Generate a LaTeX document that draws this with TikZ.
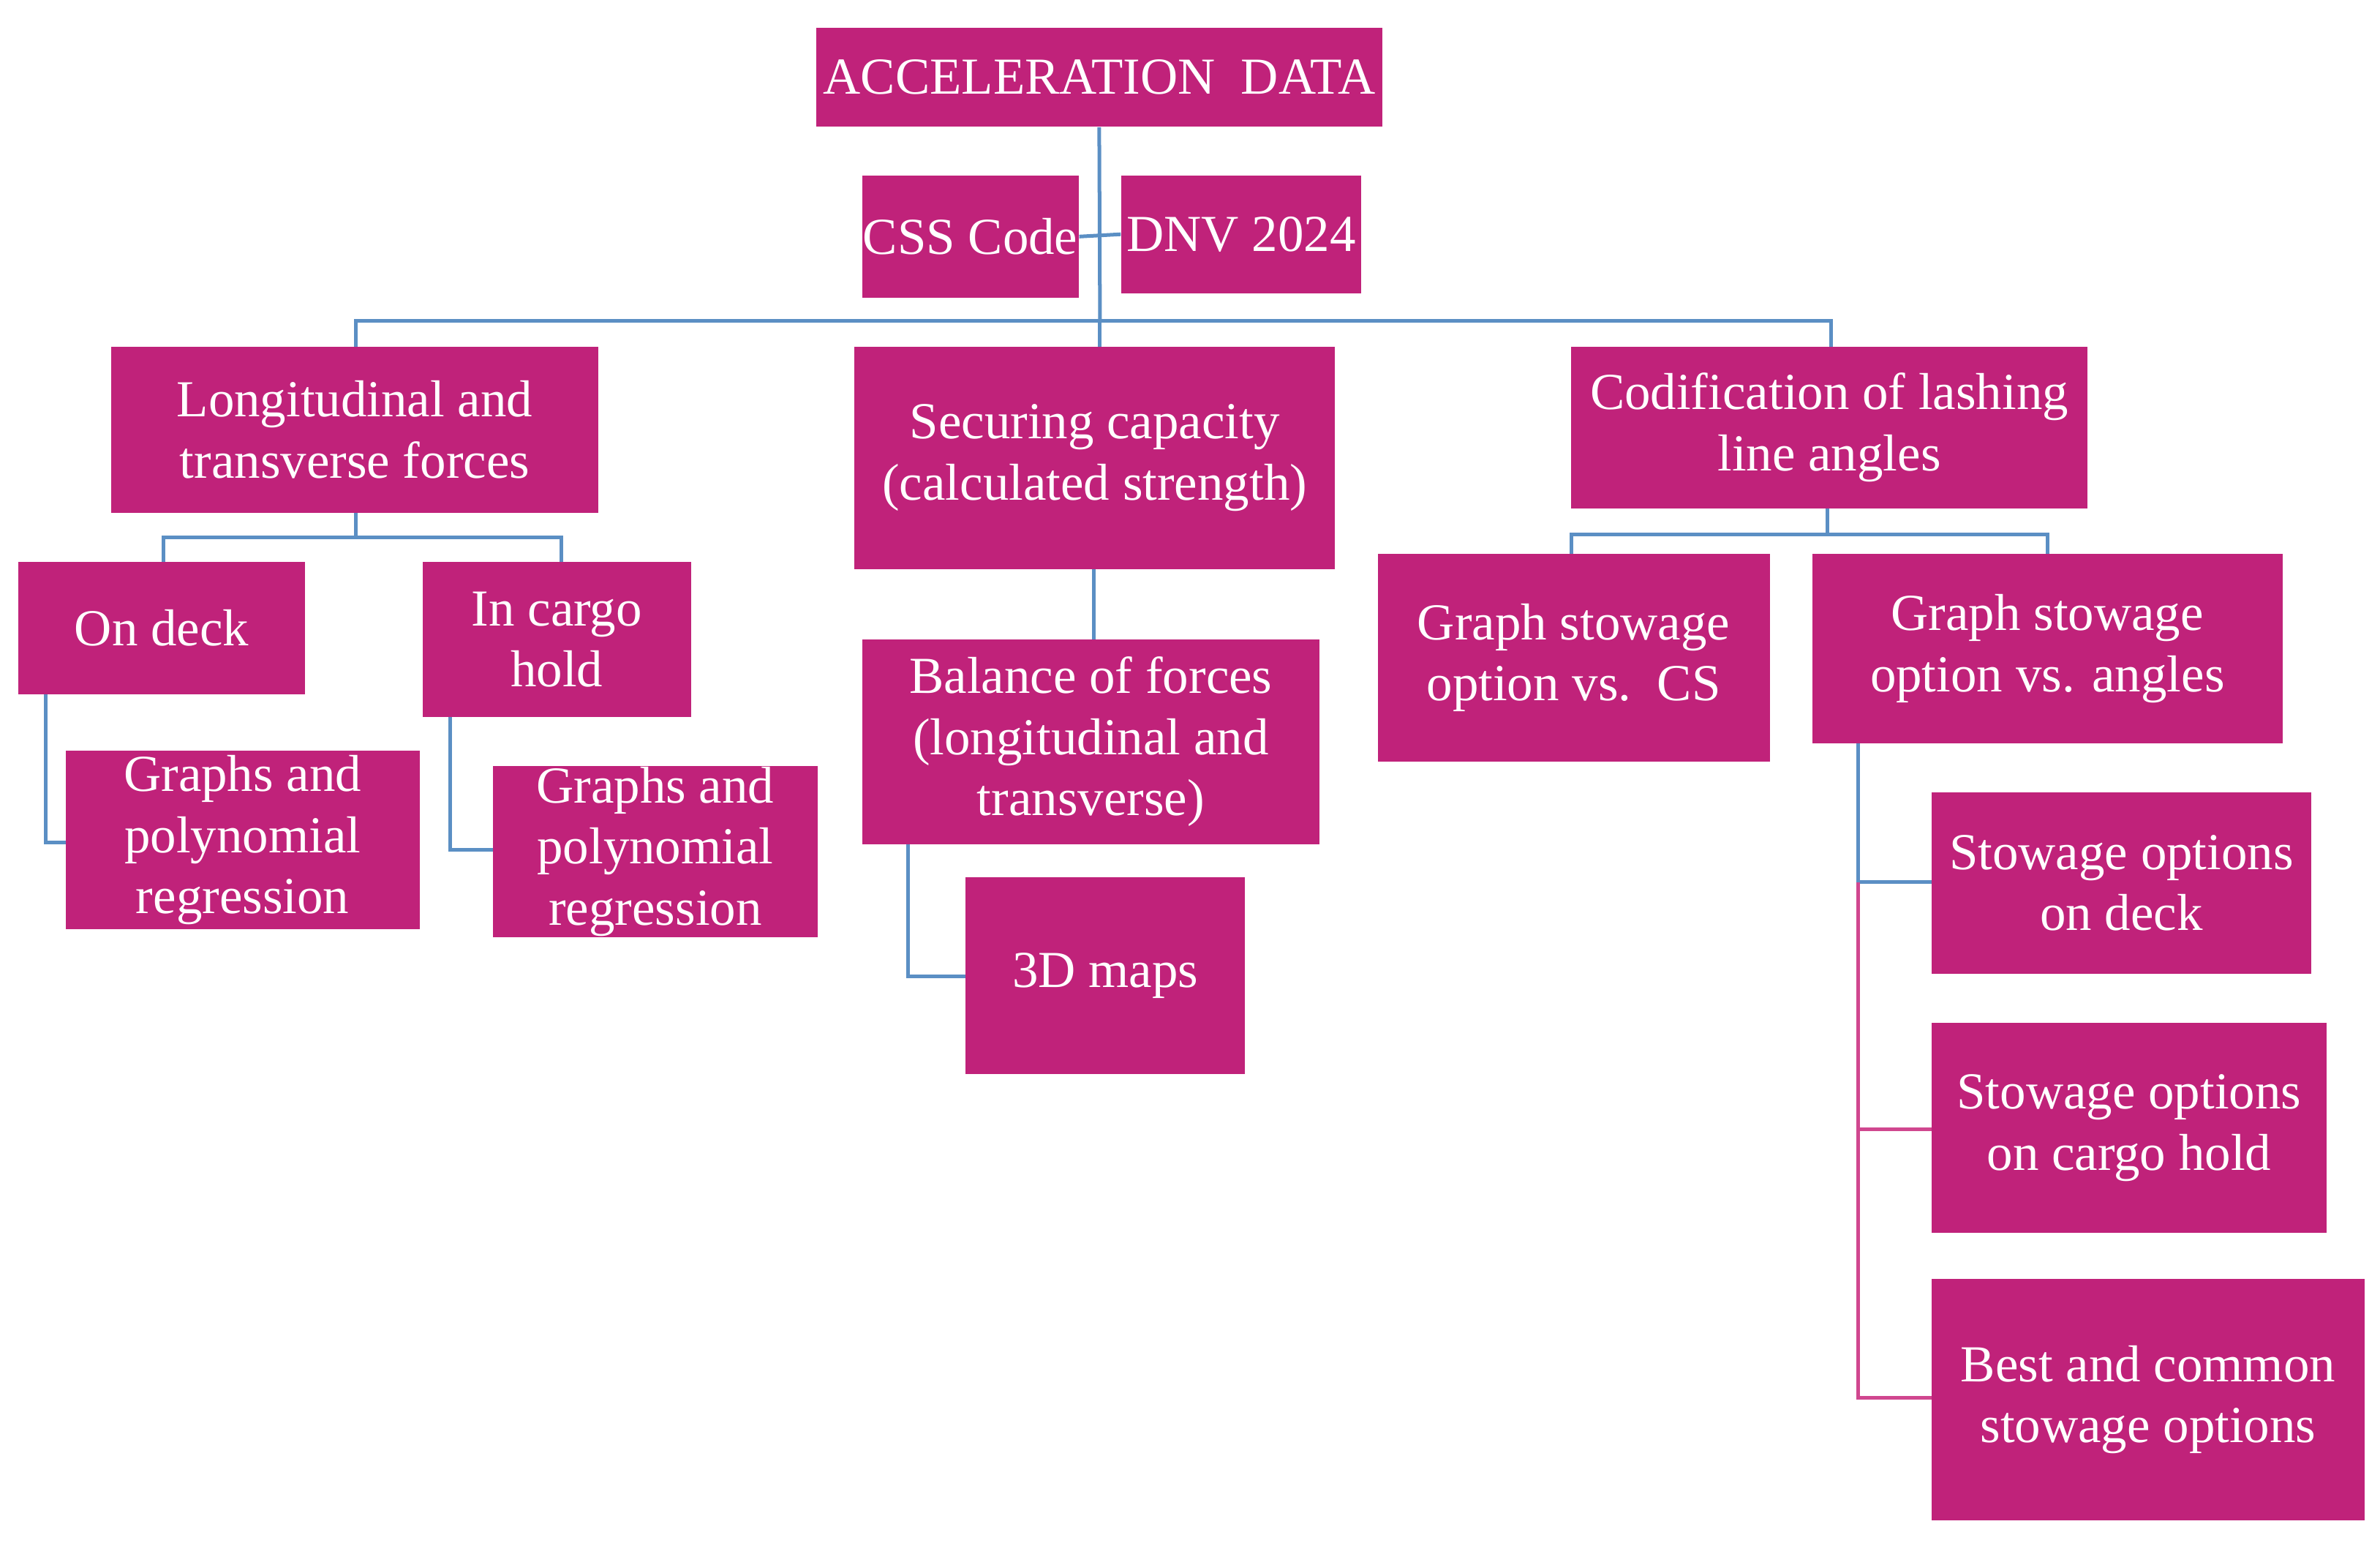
\documentclass[tikz,border=0pt]{standalone}
\usepackage{fontspec}
\setmainfont{Liberation Serif}
\begin{document}
\begin{tikzpicture}[x=0.5pt,y=-0.5pt,
 bx/.style={fill=boxc,draw=none,text=white,align=center,inner sep=0pt,font=\fontsize{17}{20}\selectfont},
 bl/.style={draw=linec,line width=1.2pt},
 pk/.style={draw=pinkc,line width=1.2pt}]
\definecolor{boxc}{HTML}{C0227A}
\definecolor{linec}{HTML}{5B8FC4}
\definecolor{pinkc}{HTML}{D0478F}
\useasboundingbox (0,0) rectangle (1560,1018);
\newcommand\bxx[6]{\node[bx,minimum width={(#4-#2)*0.5pt},minimum height={(#5-#3)*0.5pt}] (#1) at ({(#2+#4)/2},{(#3+#5)/2}) {#6};}
\bxx{acc}{535}{18}{906}{83}{ACCELERATION\ \ DATA}
\bxx{css}{565}{115}{707}{195}{CSS Code}
\bxx{dnv}{735}{115}{892}{192}{DNV 2024}
\bxx{lon}{73}{227}{392}{336}{Longitudinal and\\transverse forces}
\bxx{sec}{560}{227}{875}{373}{Securing capacity\\(calculated strength)}
\bxx{cod}{1030}{227}{1368}{333}{Codification of lashing\\line angles}
\bxx{ond}{12}{368}{200}{455}{On deck}
\bxx{inc}{277}{368}{453}{470}{In cargo\\hold}
\bxx{gr1}{43}{492}{275}{609}{Graphs and\\polynomial\\regression}
\bxx{gr2}{323}{502}{536}{614}{Graphs and\\polynomial\\regression}
\bxx{bal}{565}{419}{865}{553}{Balance of forces\\(longitudinal and\\transverse)}
\bxx{map}{633}{575}{816}{704}{3D maps}
\bxx{gcs}{903}{363}{1160}{499}{Graph stowage\\option vs.\ \ CS}
\bxx{gan}{1188}{363}{1496}{487}{Graph stowage\\option vs. angles}
\bxx{sdk}{1266}{519}{1515}{638}{Stowage options\\on deck}
\bxx{sho}{1266}{670}{1525}{808}{Stowage options\\on cargo hold}
\bxx{bst}{1266}{838}{1550}{996}{Best and common\\stowage options}
\coordinate (t1) at (721,210);
\draw[bl] (acc.south) -- (t1);
\draw[bl] (css.east) -- (dnv.west);
\draw[bl] (233,227) -- (233,210) -- (1200,210) -- (1200,227);
\draw[bl] (721,210) -- (721,227);
\draw[bl] (233,336) -- (233,352);
\draw[bl] (107,368) -- (107,352) -- (368,352) -- (368,368);
\draw[bl] (30,455) -- (30,552) -- (43,552);
\draw[bl] (295,470) -- (295,557) -- (323,557);
\draw[bl] (717,373) -- (717,419);
\draw[bl] (595,553) -- (595,640) -- (633,640);
\draw[bl] (1198,333) -- (1198,350);
\draw[bl] (1030,363) -- (1030,350) -- (1342,350) -- (1342,363);
\draw[bl] (1218,487) -- (1218,578) -- (1266,578);
\draw[pk] (1218,578) -- (1218,916) -- (1266,916);
\draw[pk] (1218,740) -- (1266,740);
\end{tikzpicture}
\end{document}
